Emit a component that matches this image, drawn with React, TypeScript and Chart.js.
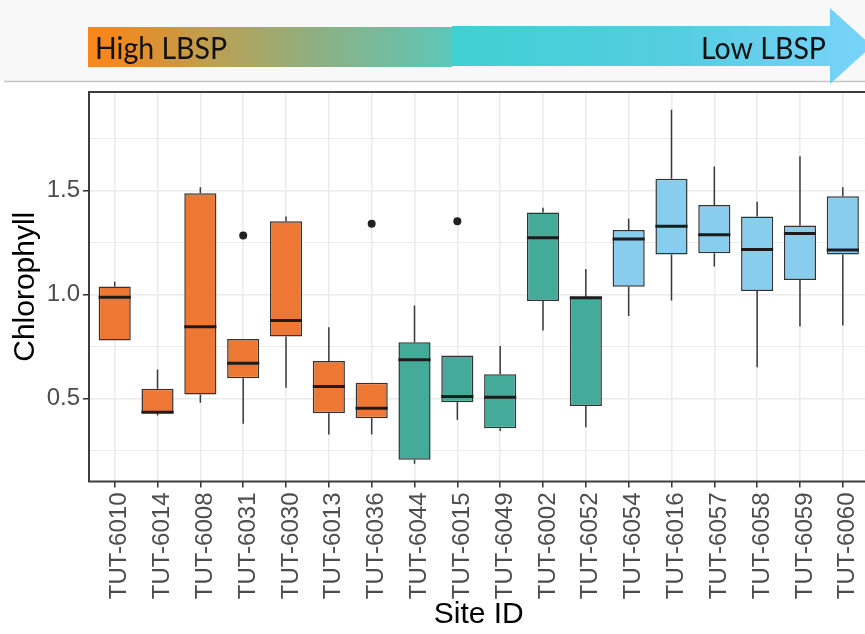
import React, { useEffect, useRef } from 'react';
import { Chart, registerables } from 'chart.js';

Chart.register(...registerables);

// ---- data ----
const categories = [
  'TUT-6010', 'TUT-6014', 'TUT-6008', 'TUT-6031', 'TUT-6030', 'TUT-6013', 'TUT-6036',
  'TUT-6044', 'TUT-6015', 'TUT-6049', 'TUT-6002', 'TUT-6052',
  'TUT-6054', 'TUT-6016', 'TUT-6057', 'TUT-6058', 'TUT-6059', 'TUT-6060',
];
const groups = [
  'high', 'high', 'high', 'high', 'high', 'high', 'high',
  'mid', 'mid', 'mid', 'mid', 'mid',
  'low', 'low', 'low', 'low', 'low', 'low',
];
const whiskerLow = [0.779, 0.419, 0.48, 0.379, 0.552, 0.328, 0.328, 0.187, 0.398, 0.344, 0.827, 0.363, 0.896, 0.971, 1.134, 0.651, 0.846, 0.851];
const q1 = [0.779, 0.43, 0.52, 0.598, 0.798, 0.43, 0.406, 0.206, 0.483, 0.358, 0.968, 0.464, 1.037, 1.192, 1.198, 1.016, 1.07, 1.192];
const median = [0.986, 0.434, 0.845, 0.67, 0.875, 0.558, 0.454, 0.686, 0.51, 0.507, 1.272, 0.984, 1.266, 1.328, 1.287, 1.216, 1.293, 1.214];
const q3 = [1.038, 0.547, 1.486, 0.786, 1.352, 0.68, 0.576, 0.77, 0.707, 0.617, 1.394, 0.986, 1.31, 1.555, 1.43, 1.374, 1.331, 1.472];
const whiskerHigh = [1.062, 0.64, 1.515, 0.786, 1.374, 0.843, 0.576, 0.947, 0.707, 0.752, 1.416, 1.122, 1.363, 1.887, 1.614, 1.445, 1.663, 1.515];
const outlierSites = ['TUT-6031', 'TUT-6036', 'TUT-6015'];
const outlierValues = [1.283, 1.339, 1.352];
const yMajorTicks = [0.5, 1.0, 1.5];
const yRange = [0.102, 1.972];
const arrowLabels = ['High LBSP', 'Low LBSP'];
const xTitle = 'Site ID';
const yTitle = 'Chlorophyll';

const groupColors: Record<string, string> = { high: '#EE7733', mid: '#44AA99', low: '#88CCEE' };

const W = 880;
const H = 634;

const isMajor = (v: number) => yMajorTicks.some((m) => Math.abs(m - v) < 1e-6);

const extrasPlugin = {
  id: 'boxExtras',
  beforeDraw(chart: any) {
    const ctx = chart.ctx;
    ctx.save();
    ctx.fillStyle = '#ffffff';
    ctx.fillRect(0, 0, chart.width, chart.height);
    ctx.fillStyle = '#F8F8F8';
    ctx.fillRect(0, 0, chart.width, 81);
    ctx.strokeStyle = '#C6C6C6';
    ctx.lineWidth = 1.5;
    ctx.beginPath();
    ctx.moveTo(4, 81.5);
    ctx.lineTo(chart.width, 81.5);
    ctx.stroke();

    // gradient arrow
    const g1 = ctx.createLinearGradient(88, 0, 452, 0);
    g1.addColorStop(0, '#F8861A');
    g1.addColorStop(0.08, '#F0891F');
    g1.addColorStop(0.38, '#B5A259');
    g1.addColorStop(0.62, '#8FAF80');
    g1.addColorStop(1, '#5CC7B8');
    ctx.fillStyle = g1;
    ctx.fillRect(88, 27, 452 - 88, 40);
    const g2 = ctx.createLinearGradient(452, 0, 872, 0);
    g2.addColorStop(0, '#3FD0D2');
    g2.addColorStop(0.55, '#56CDE2');
    g2.addColorStop(1, '#7AD3FA');
    ctx.fillStyle = g2;
    ctx.fillRect(452, 26, 831 - 452, 40);
    ctx.beginPath();
    ctx.moveTo(830, 8);
    ctx.lineTo(872, 46);
    ctx.lineTo(830, 84);
    ctx.closePath();
    ctx.fill();

    ctx.fillStyle = '#111111';
    ctx.font = '31px Lato, "Open Sans", sans-serif';
    ctx.textBaseline = 'alphabetic';
    ctx.textAlign = 'left';
    ctx.fillText(arrowLabels[0], 95, 59, 132);
    ctx.textAlign = 'right';
    ctx.fillText(arrowLabels[1], 826, 59, 125);
    ctx.restore();
  },
  beforeDatasetsDraw(chart: any) {
    const ctx = chart.ctx;
    const xs = chart.scales.x;
    const ys = chart.scales.y;
    ctx.save();
    ctx.strokeStyle = '#3a3a3a';
    ctx.lineWidth = 1.5;
    categories.forEach((_, i) => {
      const x = xs.getPixelForValue(i);
      ctx.beginPath();
      ctx.moveTo(x, ys.getPixelForValue(whiskerLow[i]));
      ctx.lineTo(x, ys.getPixelForValue(q1[i]));
      ctx.moveTo(x, ys.getPixelForValue(q3[i]));
      ctx.lineTo(x, ys.getPixelForValue(whiskerHigh[i]));
      ctx.stroke();
    });
    ctx.restore();
  },
  afterDatasetsDraw(chart: any) {
    const ctx = chart.ctx;
    const xs = chart.scales.x;
    const ys = chart.scales.y;
    const meta = chart.getDatasetMeta(0);
    ctx.save();
    ctx.strokeStyle = '#1c1c1c';
    ctx.lineWidth = 3;
    categories.forEach((_, i) => {
      const x = xs.getPixelForValue(i);
      const hw = meta.data[i].width / 2;
      const y = ys.getPixelForValue(median[i]);
      ctx.beginPath();
      ctx.moveTo(x - hw, y);
      ctx.lineTo(x + hw, y);
      ctx.stroke();
    });
    ctx.restore();
  },
  afterDraw(chart: any) {
    const ctx = chart.ctx;
    const a = chart.chartArea;
    ctx.save();
    ctx.strokeStyle = '#3d3d3d';
    ctx.lineWidth = 2;
    ctx.strokeRect(a.left, a.top, a.right - a.left, a.bottom - a.top);
    ctx.restore();
  },
};

export default function App() {
  const ref = useRef<HTMLCanvasElement>(null);

  useEffect(() => {
    if (!ref.current) return;
    Chart.defaults.font.family = '"Liberation Sans", Arial, sans-serif';
    const chart = new Chart(ref.current, {
      type: 'bar',
      data: {
        datasets: [
          {
            type: 'bar',
            data: categories.map((_, i) => ({ x: i, y: [q1[i], q3[i]] })) as any,
            backgroundColor: groups.map((g) => groupColors[g]),
            borderColor: '#333333',
            borderWidth: 1.5,
            borderSkipped: false,
            barPercentage: 0.75,
            categoryPercentage: 1,
            grouped: false,
          } as any,
          {
            type: 'scatter',
            data: outlierSites.map((s, k) => ({ x: categories.indexOf(s), y: outlierValues[k] })),
            pointRadius: 4,
            pointBackgroundColor: '#222222',
            pointBorderWidth: 0,
          } as any,
        ],
      },
      options: {
        animation: false,
        responsive: false,
        devicePixelRatio: 1,
        layout: { padding: { top: 92, right: W - 868.5, left: 0, bottom: 0 } },
        plugins: { legend: { display: false }, tooltip: { enabled: false } },
        scales: {
          x: {
            type: 'linear',
            offset: false,
            min: -0.6,
            max: categories.length - 0.4,
            afterFit: (s: any) => {
              s.height = H - 481.5;
            },
            border: { display: false },
            grid: {
              offset: false,
              color: '#EBEBEB',
              lineWidth: 1.6,
              drawTicks: true,
              tickLength: 6,
              tickColor: '#333333',
              tickWidth: 1.5,
            },
            ticks: {
              stepSize: 1,
              includeBounds: false,
              autoSkip: false,
              minRotation: 90,
              maxRotation: 90,
              padding: 5,
              labelOffset: 5,
              color: '#4D4D4D',
              font: { size: 24 },
              callback: (v: any) => categories[Math.round(Number(v))] ?? '',
            },
            title: {
              display: true,
              text: xTitle,
              color: '#000000',
              font: { size: 30 },
              padding: { top: 0, bottom: 1 },
            },
          } as any,
          y: {
            type: 'linear',
            min: yRange[0],
            max: yRange[1],
            afterFit: (s: any) => {
              s.width = 89;
            },
            border: { display: false },
            grid: {
              color: '#EBEBEB',
              lineWidth: (c: any) => (isMajor(c.tick?.value) ? 1.6 : 0.9),
              drawTicks: true,
              tickLength: 6,
              tickWidth: 1.5,
              tickColor: (c: any) => (isMajor(c.tick?.value) ? '#333333' : 'rgba(0,0,0,0)'),
            },
            ticks: {
              stepSize: 0.25,
              includeBounds: false,
              padding: 3,
              color: '#4D4D4D',
              font: { size: 24 },
              callback: (v: any) => {
                const n = Number(v);
                return isMajor(n) ? n.toFixed(1) : '';
              },
            },
            title: {
              display: true,
              text: yTitle,
              color: '#000000',
              font: { size: 30 },
              padding: { top: 8, bottom: 0 },
            },
          } as any,
        },
      },
      plugins: [extrasPlugin],
    });
    return () => chart.destroy();
  }, []);

  return (
    <div
      style={{
        position: 'fixed',
        left: 0,
        top: 0,
        width: 865,
        height: 634,
        overflow: 'hidden',
        background: '#ffffff',
      }}
    >
      <canvas ref={ref} width={W} height={H} style={{ display: 'block' }} />
    </div>
  );
}
